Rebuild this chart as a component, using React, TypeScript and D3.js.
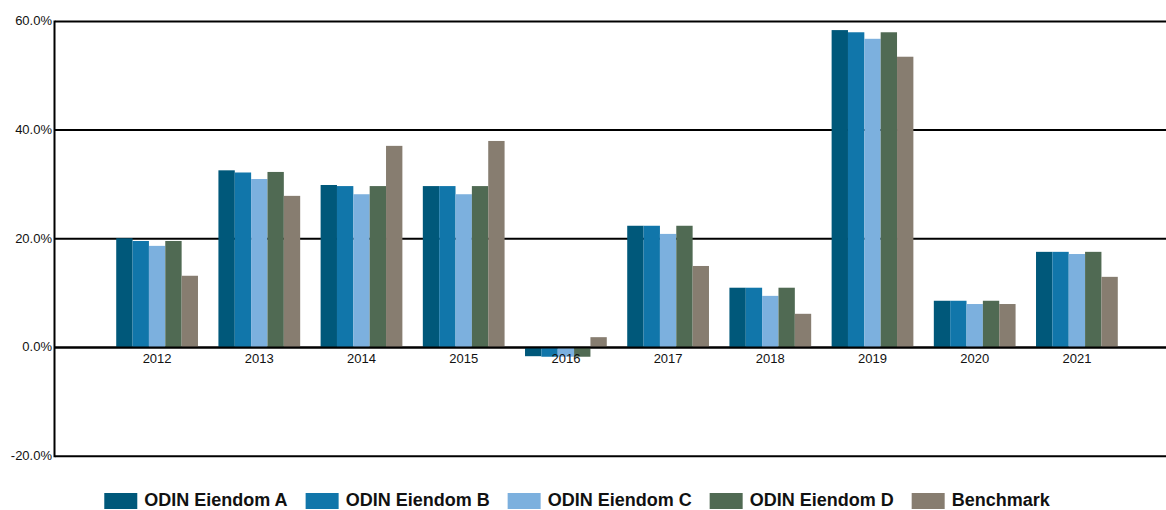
import React, { useEffect, useRef } from "react";
import * as d3 from "d3";

const years = ["2012", "2013", "2014", "2015", "2016", "2017", "2018", "2019", "2020", "2021"];
const seriesNames = ["ODIN Eiendom A", "ODIN Eiendom B", "ODIN Eiendom C", "ODIN Eiendom D", "Benchmark"];
const eiendomA = [20.1, 32.6, 29.9, 29.7, -1.6, 22.4, 11.0, 58.4, 8.6, 17.6];
const eiendomB = [19.6, 32.2, 29.7, 29.7, -1.7, 22.4, 11.0, 58.0, 8.6, 17.6];
const eiendomC = [18.7, 31.0, 28.2, 28.2, -1.7, 20.9, 9.5, 56.8, 8.0, 17.2];
const eiendomD = [19.6, 32.3, 29.7, 29.7, -1.7, 22.4, 11.0, 58.0, 8.6, 17.6];
const benchmark = [13.2, 27.9, 37.1, 38.0, 1.9, 15.0, 6.2, 53.5, 8.0, 13.0];
const yTicks = [60, 40, 20, 0, -20];
const colors = ["#00587a", "#1176aa", "#7cb0de", "#506a53", "#877d70"];

const width = 1166;
const height = 510;

export default function App() {
	const ref = useRef<SVGSVGElement>(null);

	useEffect(() => {
		const svg = d3.select(ref.current);
		svg.selectAll("*").remove();

		const allSeries = [eiendomA, eiendomB, eiendomC, eiendomD, benchmark];

		const y = d3.scaleLinear().domain([-20, 60]).range([456.2, 21.4]);
		const x0 = d3.scaleBand().domain(years).range([106, 1128]).paddingInner(0.2).paddingOuter(0.1);
		const x1 = d3.scaleBand().domain(d3.range(seriesNames.length).map(String)).range([0, x0.bandwidth()]);

		// gridlines
		svg
			.append("g")
			.selectAll("line")
			.data(yTicks)
			.join("line")
			.attr("x1", 55)
			.attr("x2", width)
			.attr("y1", (d) => y(d))
			.attr("y2", (d) => y(d))
			.attr("stroke", "#000")
			.attr("stroke-width", 2);

		// y labels
		svg
			.append("g")
			.attr("font-family", "Liberation Sans, Arial, sans-serif")
			.attr("font-size", 13)
			.attr("fill", "#111")
			.selectAll("text")
			.data(yTicks)
			.join("text")
			.attr("x", 52)
			.attr("y", (d) => y(d))
			.attr("dy", "0.3em")
			.attr("text-anchor", "end")
			.text((d) => d.toFixed(1) + "%");

		// bars
		const groups = svg
			.append("g")
			.selectAll("g")
			.data(years)
			.join("g")
			.attr("transform", (d) => `translate(${x0(d)},0)`);

		groups
			.selectAll("rect")
			.data((_, i) => allSeries.map((s, k) => ({ k, v: s[i] })))
			.join("rect")
			.attr("x", (d) => x1(String(d.k))!)
			.attr("width", x1.bandwidth())
			.attr("y", (d) => y(Math.max(0, d.v)))
			.attr("height", (d) => Math.abs(y(d.v) - y(0)))
			.attr("fill", (d) => colors[d.k]);

		// zero line + left axis on top
		svg
			.append("line")
			.attr("x1", 55)
			.attr("x2", width)
			.attr("y1", y(0))
			.attr("y2", y(0))
			.attr("stroke", "#000")
			.attr("stroke-width", 2);
		svg
			.append("line")
			.attr("x1", 54.5)
			.attr("x2", 54.5)
			.attr("y1", y(60) - 1)
			.attr("y2", y(-20) + 1)
			.attr("stroke", "#000")
			.attr("stroke-width", 2);

		// x labels
		svg
			.append("g")
			.attr("font-family", "Liberation Sans, Arial, sans-serif")
			.attr("font-size", 13)
			.attr("fill", "#111")
			.selectAll("text")
			.data(years)
			.join("text")
			.attr("x", (d) => x0(d)! + x0.bandwidth() / 2)
			.attr("y", 363)
			.attr("text-anchor", "middle")
			.text((d) => d);

		// legend
		const legend = svg
			.append("g")
			.attr("font-family", "Liberation Sans, Arial, sans-serif")
			.attr("font-size", 18)
			.attr("font-weight", "bold")
			.attr("fill", "#111");
		const items = seriesNames.map((name, i) => {
			const g = legend.append("g");
			g.append("rect").attr("width", 33).attr("height", 16).attr("y", 493).attr("fill", colors[i]);
			const t = g.append("text").attr("x", 40).attr("y", 506).text(name);
			const w = (t.node() as SVGTextElement).getComputedTextLength();
			return { g, w: 40 + w };
		});
		const gap = 18;
		const total = d3.sum(items, (d) => d.w) + gap * (items.length - 1);
		let cx = 577 - total / 2;
		items.forEach((it) => {
			it.g.attr("transform", `translate(${cx},0)`);
			cx += it.w + gap;
		});
	}, []);

	return (
		<svg
			ref={ref}
			width={width}
			height={height}
			style={{ position: "absolute", left: 0, top: 0, background: "#fff" }}
		/>
	);
}
